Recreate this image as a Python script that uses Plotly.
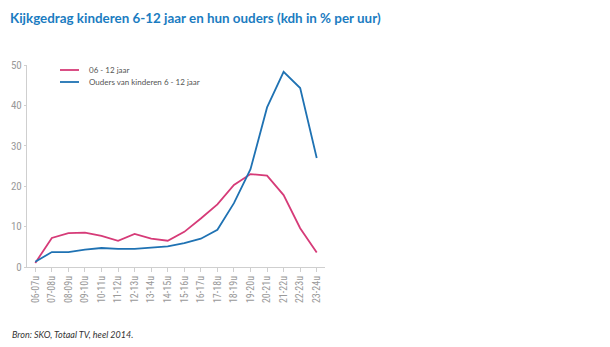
import plotly.graph_objects as go

hours = ["06-07u", "07-08u", "08-09u", "09-10u", "10-11u", "11-12u", "12-13u",
         "13-14u", "14-15u", "15-16u", "16-17u", "17-18u", "18-19u", "19-20u",
         "20-21u", "21-22u", "22-23u", "23-24u"]
kids_6_12 = [1.0, 7.2, 8.4, 8.5, 7.7, 6.5, 8.2, 7.0, 6.5, 8.7, 12.0,
             15.5, 20.3, 23.0, 22.6, 17.8, 9.6, 3.6]
parents = [1.3, 3.7, 3.7, 4.3, 4.7, 4.5, 4.5, 4.8, 5.1, 5.9, 7.0,
           9.2, 15.8, 24.2, 39.5, 48.3, 44.3, 27.0]
y_ticks = [0, 10, 20, 30, 40, 50]
series_names = ["06 - 12 jaar", "Ouders van kinderen 6 - 12 jaar"]

PINK = "#d63b78"
BLUE = "#1f72b3"
GREY = "#9a9a9a"
TICK_FONT = "Liberation Sans Narrow, Roboto Condensed, Roboto, sans-serif"
TEXT_FONT = "Lato, Open Sans, sans-serif"

# plot area in pixels (for placing the compact legend)
L, R, T, B, W, H = 27, 285, 65, 80, 610, 347
PW, PH = W - L - R, H - T - B


def px_x(x):
    return (x - L) / PW


def px_y(y):
    return (H - B - y) / PH


fig = go.Figure()
for name, vals, col in zip(series_names, [kids_6_12, parents], [PINK, BLUE]):
    fig.add_trace(go.Scatter(x=hours, y=vals, mode="lines", name=name,
                             line=dict(color=col, width=1.8)))

# compact legend: short coloured strokes with labels
shapes, annotations = [], []
for i, (name, col) in enumerate(zip(series_names, [PINK, BLUE])):
    yy = 70 + 12 * i
    shapes.append(dict(type="line", xref="paper", yref="paper",
                       x0=px_x(60), x1=px_x(79), y0=px_y(yy), y1=px_y(yy),
                       line=dict(color=col, width=1.8)))
    annotations.append(dict(text=name, xref="paper", yref="paper",
                            x=px_x(87), y=px_y(yy), xanchor="left", yanchor="middle",
                            showarrow=False,
                            font=dict(family=TEXT_FONT, size=8, color="#555555")))

annotations.append(dict(text="<i>Bron: SKO, Totaal TV, heel 2014.</i>",
                        xref="paper", yref="paper", x=px_x(10), y=px_y(334),
                        xanchor="left", yanchor="middle", showarrow=False,
                        font=dict(family=TEXT_FONT, size=9, color="#333333")))

fig.update_layout(
    width=W, height=H,
    margin=dict(l=L, r=R, t=T, b=B),
    paper_bgcolor="white", plot_bgcolor="white",
    showlegend=False,
    title=dict(text="Kijkgedrag kinderen 6-12 jaar en hun ouders (kdh in % per uur)",
               x=10 / W, xanchor="left", y=1 - 18 / H, yanchor="middle",
               font=dict(family=TEXT_FONT, size=13.4, color="#1b7cc1", weight="bold")),
    xaxis=dict(type="category", range=[-0.5, 17.5], showgrid=False,
               showline=True, linecolor="#cfcfcf", linewidth=1,
               ticks="outside", ticklen=4, tickcolor="#cfcfcf",
               tickangle=-90,
               tickfont=dict(family=TICK_FONT, size=10, color=GREY)),
    yaxis=dict(range=[0, 50], tickvals=y_ticks, showgrid=False, zeroline=False,
               showline=True, linecolor="#cfcfcf", linewidth=1,
               ticks="outside", ticklen=2, tickcolor="#cfcfcf",
               tickfont=dict(family=TICK_FONT, size=11, color=GREY)),
    shapes=shapes,
    annotations=annotations,
)

fig.write_html("out.html")
